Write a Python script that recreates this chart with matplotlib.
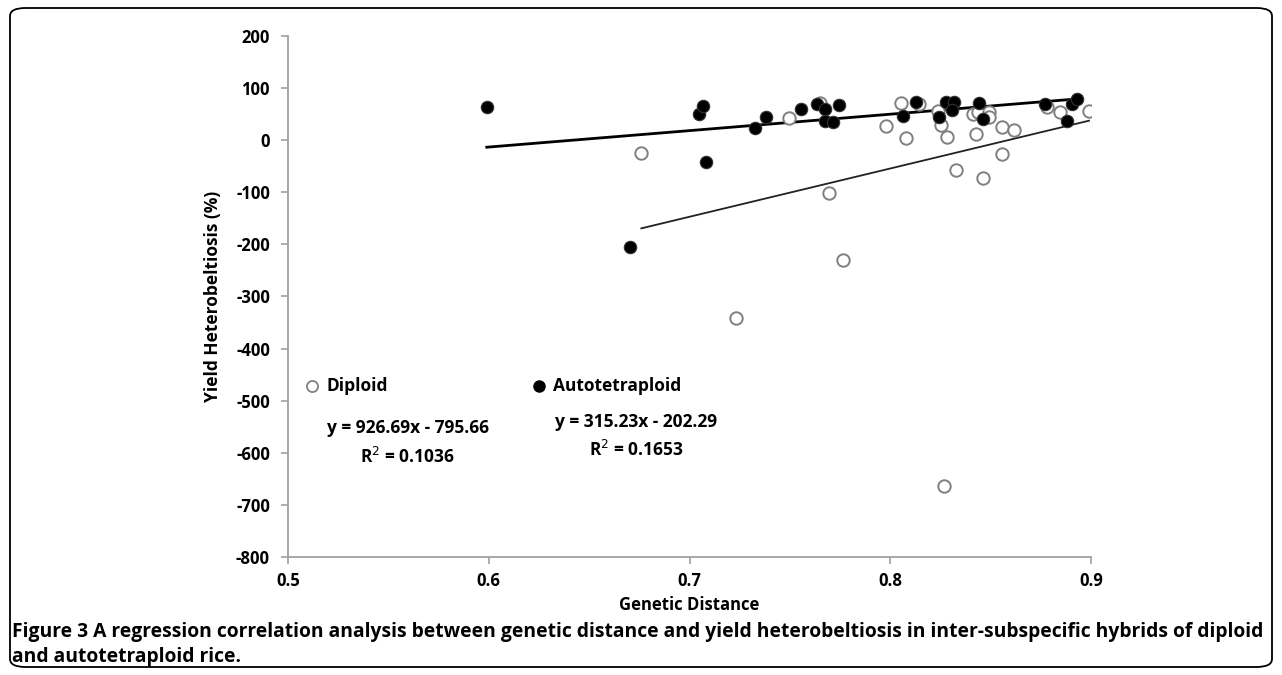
import matplotlib.pyplot as plt
from matplotlib.lines import Line2D
from matplotlib.patches import FancyBboxPatch

plt.rcParams['font.family'] = ['Open Sans', 'DejaVu Sans']
plt.rcParams['axes.unicode_minus'] = False

# diploid hybrids (open circles)
dip_x = [0.676, 0.7234, 0.7494, 0.765, 0.7697, 0.7766, 0.798, 0.8053, 0.8144, 0.8078,
         0.8240, 0.8252, 0.8285, 0.8327, 0.827, 0.8410, 0.8435, 0.8490, 0.8493, 0.8426,
         0.8463, 0.8555, 0.8558, 0.8614, 0.8782, 0.8845, 0.8990]
dip_y = [-24, -342, 42, 72, -102, -230, 27, 71, 69, 4,
         56, 29, 7, -58, -664, 50, 54, 55, 45, 11,
         -72, -26, 26, 20, 64, 54, 56]

# autotetraploid hybrids (filled circles)
tet_x = [0.599, 0.6705, 0.7047, 0.7066, 0.708, 0.7328, 0.738, 0.7556, 0.7634, 0.7677,
         0.7743, 0.7677, 0.7713, 0.8062, 0.8127, 0.8277, 0.8318, 0.8307, 0.8244, 0.8443,
         0.846, 0.8771, 0.8903, 0.8932, 0.8882]
tet_y = [64, -205, 50, 65, -42, 24, 45, 59, 70, 59,
         68, 36, 35, 46, 74, 74, 73, 58, 44, 71,
         40, 69, 69, 79, 36]

# fitted lines as printed on the chart
dip_fit = (926.69, -795.66)
tet_fit = (315.23, -202.29)
dip_range = [0.676, 0.899]
tet_range = [0.599, 0.893]

fig = plt.figure(figsize=(12.82, 6.75), dpi=100)
ax = fig.add_axes([288 / 1282, 1 - 557 / 675, (1091 - 288) / 1282, (557 - 36) / 675])

ax.scatter(dip_x, dip_y, s=80, facecolors='white', edgecolors='#808080', linewidths=1.4, zorder=3)
ax.scatter(tet_x, tet_y, s=80, facecolors='black', edgecolors='#333333', linewidths=0.8, zorder=4)

ax.plot(dip_range, [dip_fit[0] * v + dip_fit[1] for v in dip_range], color='#222222', lw=1.3, zorder=2)
ax.plot(tet_range, [tet_fit[0] * v + tet_fit[1] for v in tet_range], color='black', lw=2.0, zorder=2)

ax.set_xlim(0.5, 0.9)
ax.set_ylim(-800, 200)
ax.set_xticks([0.5, 0.6, 0.7, 0.8, 0.9])
ax.set_xticklabels(['0.5', '0.6', '0.7', '0.8', '0.9'])
ax.set_yticks(range(-800, 201, 100))
for s in ['top', 'right']:
    ax.spines[s].set_visible(False)
for s in ['left', 'bottom']:
    ax.spines[s].set_color('#a0a0a0')
    ax.spines[s].set_linewidth(1.3)
ax.tick_params(colors='#a0a0a0', length=5, width=1.2, labelcolor='black', labelsize=12)
ax.tick_params(axis='y', pad=8)
ax.tick_params(axis='x', pad=6)
for lab in ax.get_xticklabels() + ax.get_yticklabels():
    lab.set_fontweight('bold')

ax.set_ylabel('Yield Heterobeltiosis (%)', fontsize=12.5, fontweight='bold', labelpad=10)
ax.set_xlabel('Genetic Distance', fontsize=12, fontweight='bold', labelpad=4)

# legend and equations
fig.add_artist(Line2D([311.7 / 1282], [1 - 386 / 675], marker='o', ms=8, mfc='white', mec='#808080', mew=1.3, ls=''))
fig.text(327 / 1282, 1 - 386 / 675, 'Diploid', fontsize=12.5, fontweight='bold', va='center')
fig.add_artist(Line2D([539.3 / 1282], [1 - 386 / 675], marker='o', ms=8, mfc='black', mec='black', ls=''))
fig.text(553 / 1282, 1 - 386 / 675, 'Autotetraploid', fontsize=12.5, fontweight='bold', va='center')

fig.text(408 / 1282, 1 - 428 / 675, 'y = 926.69x - 795.66', fontsize=12.5, fontweight='bold', ha='center', va='center')
fig.text(407 / 1282, 1 - 457 / 675, 'R$^2$ = 0.1036', fontsize=12.5, fontweight='bold', ha='center', va='center')
fig.text(636 / 1282, 1 - 422 / 675, 'y = 315.23x - 202.29', fontsize=12.5, fontweight='bold', ha='center', va='center')
fig.text(636 / 1282, 1 - 450 / 675, 'R$^2$ = 0.1653', fontsize=12.5, fontweight='bold', ha='center', va='center')

# caption
fig.text(12 / 1282, 1 - 632 / 675,
         'Figure 3 A regression correlation analysis between genetic distance and yield heterobeltiosis in inter-subspecific hybrids of diploid',
         fontsize=13.9, fontweight='bold', va='center')
fig.text(12 / 1282, 1 - 657 / 675, 'and autotetraploid rice.', fontsize=13.9, fontweight='bold', va='center')

# rounded frame
frame = FancyBboxPatch((10 / 1282, 8 / 675), 1262 / 1282, 659 / 675,
                       boxstyle='round,pad=0,rounding_size=0.012', transform=fig.transFigure,
                       fill=False, edgecolor='black', lw=1.3)
fig.add_artist(frame)

plt.savefig('out.png')
